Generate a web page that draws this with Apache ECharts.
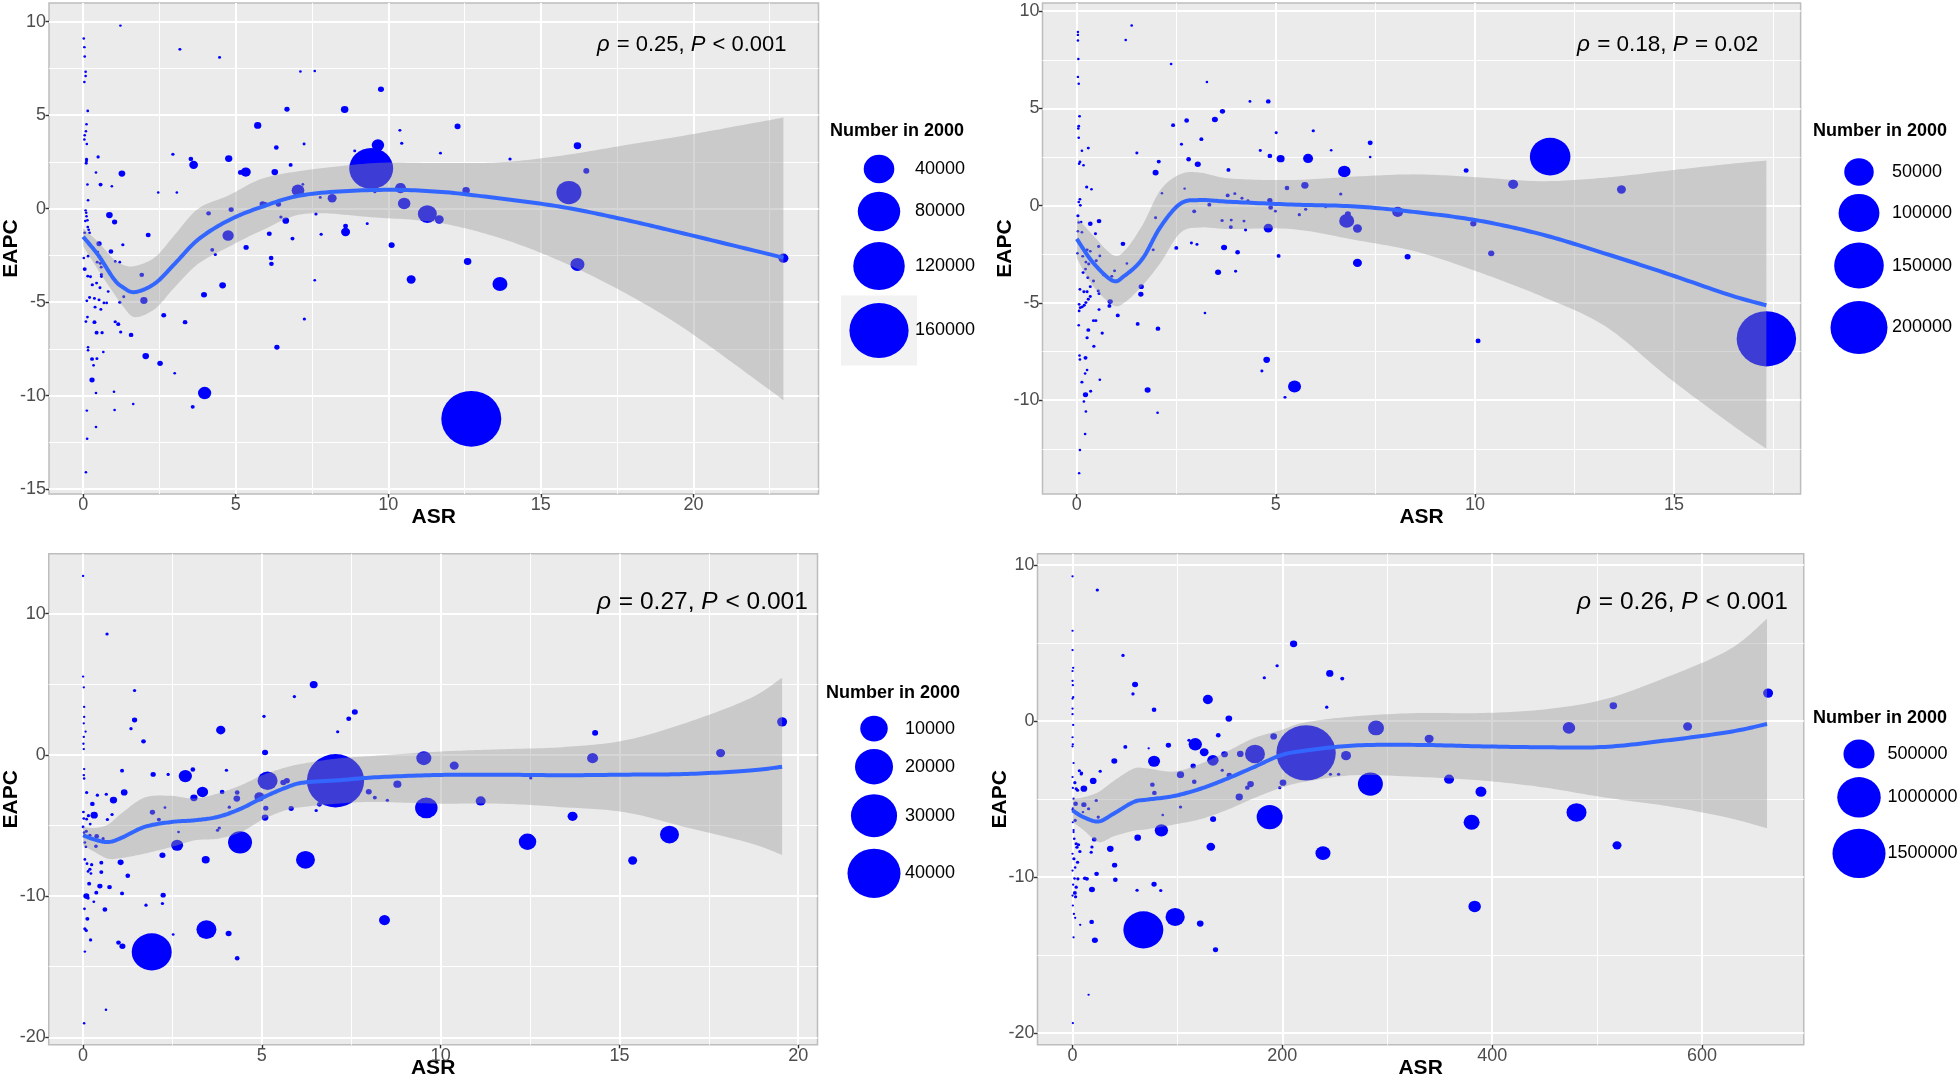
<!DOCTYPE html>
<html><head><meta charset="utf-8">
<script src="https://cdn.jsdelivr.net/npm/echarts@6/dist/echarts.min.js"></script>
<style>html,body{margin:0;padding:0;background:#fff}#c{width:1960px;height:1077px}</style>
</head><body><div id="c"></div>
<script>
// ================= DATA =================
// points: [ASR, EAPC, Number in 2000]
const p1Points = [
[1.22,9.79,20],[0.02,9.1,20],[0.04,8.64,20],[0.05,8.14,20],[0.08,7.32,20],[0.08,7.1,20],[0.04,6.77,20],[3.17,8.52,50],[4.47,8.09,50],[7.12,7.34,20],[7.59,7.36,20],
[0.15,5.23,30],[0.11,4.52,20],[0.09,4.14,20],[0.05,3.93,20],[0.04,3.7,20],[0.12,3.46,20],[0.49,2.77,80],[0.11,2.65,50],[0.11,2.55,50],[0.1,2.43,50],[0.42,1.93,20],
[1.27,1.88,1080],[0.57,1.29,196],[0.94,1.2,20],[0.14,1.29,20],[0.16,0.45,20],[0.08,-0.09,20],[0.1,-0.22,20],[0.11,-0.41,20],[0.14,-0.62,20],[0.07,-0.66,20],
[0.86,-0.34,1080],[1.03,-0.71,530],[0.15,-0.98,30],[0.18,-1.13,30],[0.05,-1.29,30],[0.21,-1.29,30],[2.13,-1.41,440],[2.94,2.91,80],[3.53,2.66,356],[3.62,2.34,2200],
[4.77,2.68,1380],[2.46,0.86,20],[3.07,0.86,20],[0.52,-1.88,530],[1.3,-1.93,80],[0.91,-2.29,356],[0.02,-2.64,20],[0.16,-2.54,30],[0.48,-2.32,30],[0.05,-3.23,196],
[0.46,-2.86,50],[0.56,-2.93,50],[0.59,-3.13,50],[0.6,-3.52,80],[0.6,-3.63,50],[0.15,-3.61,50],[0.24,-3.64,50],[0.3,-4.07,80],[0.44,-3.98,50],[0.55,-4.23,50],
[1.05,-2.82,30],[1.2,-2.86,30],[1.92,-3.54,356],[1.99,-4.91,1380],[1.2,-5.0,80],[1.33,-4.71,50],[0.82,-4.43,30],[0.21,-4.75,50],[0.37,-4.8,50],[0.52,-4.88,50],
[0.68,-5.04,30],[0.77,-5.04,30],[0.39,-5.27,50],[0.58,-5.39,50],[0.12,-4.93,30],[0.14,-5.8,30],[0.09,-6.04,30],[0.37,-6.07,196],[1.05,-6.05,80],[1.15,-6.18,196],
[0.44,-6.63,196],[0.62,-6.63,80],[1.23,-6.6,80],[1.57,-6.75,356],[2.64,-5.7,440],[3.34,-6.07,356],[3.96,-4.6,780],[4.57,-4.1,1080],[0.16,-7.41,20],[0.16,-7.57,20],
[0.66,-7.66,20],[0.29,-8.04,196],[0.45,-8.02,50],[0.34,-8.38,30],[2.05,-7.88,1080],[2.52,-8.27,620],[3.0,-8.8,30],[0.29,-9.16,530],[0.42,-9.86,20],[1.01,-9.79,20],
[1.03,-10.77,20],[1.64,-10.45,20],[0.12,-10.8,20],[0.42,-11.68,20],[0.13,-12.3,20],[0.09,-14.1,20],[3.98,-9.86,6250],[3.59,-10.6,196],[6.35,-7.41,530],[7.25,-5.9,80],
[5.72,4.45,1380],[6.68,5.32,530],[6.33,3.27,356],[7.24,3.46,50],[6.8,2.34,196],[5.33,1.96,3130],[5.16,1.94,530],[6.28,1.96,1080],[7.04,0.98,5600],[7.2,1.3,30],
[4.11,-0.25,356],[4.85,-0.05,530],[4.3,-1.05,50],[4.75,-1.43,4230],[4.23,-2.2,196],[4.33,-2.45,80],[5.34,-2.07,530],[5.88,0.25,780],[5.97,0.25,300],[6.4,0.23,530],
[6.48,-0.45,80],[6.64,-0.64,1080],[6.1,-1.34,440],[6.86,-1.6,196],[6.16,-2.64,356],[6.17,-2.95,356],
[9.76,6.39,780],[8.57,5.3,1480],[9.66,3.4,5390],[8.9,3.09,50],[10.38,4.19,50],[10.44,3.5,80],[12.27,4.4,780],[11.71,2.97,50],[9.44,2.15,86000],[9.56,0.91,80],
[10.4,1.1,3960],[10.52,0.28,5390],[11.28,-0.29,14130],[11.67,-0.58,2400],[12.55,0.97,1480],[8.16,0.56,2400],[7.77,0.6,50],[7.63,-0.29,80],[7.8,-1.37,80],
[8.6,-0.93,440],[8.6,-1.25,2400],[9.31,-0.8,50],[10.11,-1.95,780],[7.59,-3.83,30],[10.75,-3.79,2400],[12.6,-2.83,1480],[13.66,-4.03,8260],[13.99,2.66,80],
[15.92,0.86,25870],[16.2,3.36,1480],[16.49,2.02,780],[16.2,-2.98,7040],[22.95,-2.65,3130],[12.72,-11.24,164500]
];
const p1SmoothX = [0,0.5,1.0,1.3,1.69,2.35,3.0,3.77,4.76,5.86,7.28,9.58,11.63,13.68,15.73,17.78,19.84,22.95];
const p1Fit     = [-1.5,-2.5,-3.75,-4.2,-4.46,-4.0,-2.95,-1.65,-0.63,0.1,0.75,1.0,0.91,0.54,0.08,-0.6,-1.39,-2.62];
const p1Lower   = [-2.0,-3.3,-4.52,-5.2,-5.8,-5.36,-4.2,-2.95,-2.05,-1.16,-0.27,-0.47,-0.75,-1.58,-2.87,-4.53,-6.56,-10.24];
const p1Upper   = [-1.05,-1.8,-2.7,-3.0,-3.07,-2.6,-1.4,0.0,0.7,1.6,2.05,2.44,2.44,2.48,2.85,3.4,3.95,4.87];
const p1XTicks = [0,5,10,15,20];
const p1YTicks = [-15,-10,-5,0,5,10];
const p1Legend = [40000,80000,120000,160000];
const p1Stat = ['0.25','< 0.001'];

const p2Points = [
[0.03,8.93,20],[0.03,8.78,20],[0.03,8.49,20],[0.04,7.54,20],[0.03,6.62,20],[0.05,6.27,20],[1.38,9.26,30],[1.23,8.52,30],[2.37,7.29,30],[3.27,6.36,30],[4.35,5.36,50],[4.81,5.36,480],
[3.66,4.85,720],[3.47,4.43,1060],[2.76,4.38,480],[2.42,4.14,264],[0.07,4.6,50],[0.05,4.09,50],[0.04,3.97,30],[0.05,3.49,30],[0.29,2.96,80],[0.13,2.82,30],[0.08,2.25,50],
[0.06,2.16,30],[0.17,2.08,30],[1.51,2.71,80],[2.63,3.16,80],[3.13,3.42,264],[5.01,3.75,80],[4.61,2.84,80],[4.85,2.56,480],[5.12,2.42,2380],[2.81,2.39,480],[3.04,2.13,1060],
[2.06,2.27,264],[1.98,1.7,1060],[3.81,1.84,264],[0.25,0.96,110],[0.37,0.84,30],[2.14,0.64,20],[2.71,0.88,20],[5.28,0.91,480],[3.79,0.53,264],[3.97,0.62,80],[4.15,0.38,80],
[4.3,0.26,80],[0.08,0.33,50],[0.05,0.19,30],[0.09,0.02,50],[0.03,-0.52,110],[0.05,-0.86,30],[0.11,-0.84,30],[0.03,-1.31,30],[0.13,-1.36,30],[0.34,-0.93,480],[0.56,-0.79,480],
[2.95,-0.29,264],[3.33,0.05,264],[1.98,-0.62,80],[4.85,0.27,720],[4.87,-0.09,480],[4.99,-0.28,80],[3.65,-0.76,110],[3.88,-0.74,80],[3.87,-1.1,264],[4.2,-0.79,80],[4.24,-1.25,80],
[4.81,-1.15,3520],[0.47,-1.44,80],[0.55,-2.1,80],[1.16,-1.96,480],[2.5,-2.17,264],[2.88,-1.92,80],[3.02,-1.99,80],[1.92,-2.27,80],[1.26,-2.97,30],[3.7,-2.15,1060],[4.04,-2.39,480],
[5.07,-2.58,264],[3.55,-3.42,1060],[3.99,-3.37,80],[0.02,-2.44,30],[0.15,-2.6,50],[0.26,-2.27,80],[0.34,-2.34,50],[0.23,-2.9,50],[0.3,-3.0,80],[0.16,-3.44,80],[0.22,-3.26,50],
[0.49,-2.83,80],[0.58,-2.58,50],[0.42,-3.87,80],[0.28,-3.7,80],[0.34,-4.16,80],[0.08,-4.3,50],[0.18,-4.42,80],[0.26,-4.42,80],[0.29,-4.81,80],[0.34,-4.67,80],[0.06,-5.07,50],
[0.09,-5.24,80],[0.14,-5.2,80],[0.19,-5.12,80],[0.23,-4.98,80],[0.06,-5.41,50],[0.54,-4.38,80],[0.56,-4.52,80],[0.67,-3.56,50],[0.95,-3.35,80],[0.88,-3.63,80],[0.84,-4.93,720],
[0.82,-5.15,264],[1.62,-4.16,720],[1.61,-4.55,720],[1.03,-5.64,264],[0.56,-5.34,80],[0.05,-6.15,30],[0.29,-6.39,264],[0.26,-6.79,110],[0.42,-5.91,80],[0.48,-5.91,80],
[0.64,-6.55,110],[0.43,-7.22,110],[1.53,-6.08,264],[2.04,-6.32,480],[3.22,-5.51,30],[0.07,-7.7,30],[0.08,-7.9,30],[0.22,-7.82,264],[0.26,-8.45,30],[0.21,-8.62,30],
[0.13,-9.07,80],[0.58,-8.95,30],[0.35,-9.54,80],[0.22,-9.72,720],[0.18,-10.07,30],[0.23,-10.58,30],[0.21,-11.74,30],[0.08,-12.56,20],[0.06,-13.75,20],[1.78,-9.47,1060],
[2.03,-10.64,30],[4.77,-7.92,1460],[4.65,-8.5,80],[5.47,-9.29,8000],[5.23,-9.85,80],
[5.81,2.43,4230],[6.72,1.76,7300],[5.73,1.05,1860],[5.94,3.85,110],[6.39,2.85,30],[7.37,3.23,595],[7.37,2.5,30],[6.63,0.6,110],[6.78,-0.78,11170],[6.81,-0.43,1060],
[7.05,-1.17,3240],[8.06,-0.32,5350],[7.05,-2.94,3240],[8.31,-2.62,1060],[9.78,1.81,595],[9.96,-0.92,1200],[10.41,-2.45,1200],[10.08,-6.95,595],[10.96,1.1,4230],
[11.89,2.52,98500],[13.68,0.83,3240],[17.32,-6.84,218000],[5.75,-0.18,110],[5.59,-0.46,110],[6.25,-0.07,30]
];
const p2SmoothX = [0,0.4,0.9,1.2,1.65,2.1,2.6,3.1,3.85,5.4,7.0,8.56,10.13,11.7,13.27,14.84,16.41,17.32];
const p2Fit     = [-1.7,-2.9,-3.85,-3.6,-2.73,-1.1,0.1,0.29,0.2,0.06,-0.04,-0.34,-0.78,-1.49,-2.46,-3.5,-4.6,-5.12];
const p2Lower   = [-2.7,-4.1,-5.1,-4.98,-4.1,-2.95,-1.4,-1.12,-1.2,-1.2,-1.76,-2.38,-3.44,-4.68,-6.19,-8.8,-11.2,-12.5];
const p2Upper   = [-0.6,-1.5,-2.53,-2.32,-1.0,0.8,1.62,1.7,1.4,1.32,1.5,1.61,1.45,1.26,1.44,1.8,2.15,2.32];
const p2XTicks = [0,5,10,15];
const p2YTicks = [-10,-5,0,5,10];
const p2Legend = [50000,100000,150000,200000];
const p2Stat = ['0.18','= 0.02'];

const p3Points = [
[0,12.67,3],[0.67,8.56,26],[0,5.55,3],[0.02,4.79,3],[0.03,3.4,3],[0.03,2.69,3],[0.02,2.24,3],[0.07,1.65,3],[0.02,1.27,3],[0.01,0.79,3],[0.02,0.41,3],
[1.44,4.56,26],[1.44,2.47,167],[1.34,1.86,26],[1.69,0.96,112],[3.85,1.76,820],[5.06,2.73,26],[5.91,4.13,26],[5.09,0.17,246],[0.03,-1.0,3],[0.02,-1.43,5],[0.03,-1.67,5],
[1.09,-1.12,62],[1.96,-1.38,167],[2.38,-1.38,26],[2.86,-1.5,1960],[3.07,-1.03,112],[4.01,-1.08,26],[0.1,-2.66,26],[0.4,-2.85,26],[0.65,-2.78,26],[0.85,-3.2,432],
[1.15,-2.66,340],[0.26,-3.47,112],[0.31,-4.27,432],[0.81,-4.22,26],[0.68,-4.58,26],[0.01,-4.04,10],[0.02,-4.5,10],[3.34,-2.62,1330],[3.1,-3.04,432],[3.89,-2.62,112],
[4.31,-2.66,112],[4.3,-3.09,340],[4.09,-3.7,26],[4.93,-2.97,984],[5.16,-1.83,4980],[5.6,-1.95,246],[5.7,-1.83,246],[5.82,-3.8,167],[5.11,-3.77,167],[5.09,-4.44,340],
[1.94,-4.06,167],[2.12,-4.58,62],[2.29,-3.73,10],[2.67,-5.46,10],[2.63,-6.4,1540],[3.76,-5.34,26],[3.81,-5.17,26],[4.39,-6.19,7440],[1.05,-7.61,246],[2.22,-7.11,246],
[3.43,-7.42,554],[1.25,-8.56,112],[6.22,-7.43,4444],[0.0,-5.1,10],[0.03,-5.5,10],[0.09,-5.41,26],[0.19,-5.69,26],[0.38,-5.76,112],[0.56,-5.93,26],[0.36,-6.47,40],
[0.05,-6.2,10],[0.08,-6.5,10],[0.05,-7.4,10],[0.11,-7.7,10],[0.19,-8.1,26],[0.14,-8.25,10],[0.24,-7.77,26],[0.51,-7.63,62],[0.22,-8.4,10],[0.51,-8.3,62],[0.17,-9.12,62],
[0.47,-9.29,167],[0.74,-9.36,112],[0.37,-9.76,62],[0.09,-10.0,246],[0.14,-10.14,26],[1.09,-9.81,62],[0.61,-10.95,112],[0.3,-10.4,10],[0.04,-10.9,10],[0.12,-11.61,62],
[0.05,-12.32,26],[0.09,-12.44,26],[0.21,-13.1,26],[0.05,-13.93,5],[0.64,-18.05,5],[0.03,-19.0,5],[1.76,-10.64,26],[2.22,-10.52,26],[2.24,-9.93,167],[0.99,-13.29,112],
[1.1,-13.55,246],[1.92,-13.95,22200],[3.45,-12.37,4980],[4.07,-12.65,246],[4.31,-14.4,112],[2.52,-12.72,10],[0.15,-4.3,26],[0.1,-4.55,10],[0.2,-4.9,10],
[6.45,4.98,540],[7.6,3.04,246],[7.43,2.56,138],[7.12,1.64,26],[7.06,-1.83,47000],[7.99,-2.61,246],[8.16,-3.02,60],[8.51,-3.21,26],[8.79,-2.07,554],[6.61,-3.5,138],
[6.52,-3.94,26],[9.53,-0.23,2600],[10.38,-0.76,754],[9.6,-3.75,6460],[11.12,-3.26,984],[12.52,-1.64,26],[12.43,-6.15,3700],[8.43,-11.7,1246],[13.69,-4.35,984],
[14.25,-0.23,1246],[14.32,1.56,246],[15.37,-7.48,754],[16.4,-5.64,4444],[17.83,0.13,754],[19.55,2.34,984]
];
const p3SmoothX = [0,0.33,0.7,1.07,1.72,2.47,3.12,3.77,4.42,5.07,5.73,6.19,7.12,8.16,9.91,11.66,13.41,15.16,16.9,18.65,19.55];
const p3Fit     = [-5.69,-6.0,-6.17,-5.88,-5.1,-4.75,-4.63,-4.39,-3.8,-2.97,-2.26,-1.95,-1.8,-1.59,-1.42,-1.4,-1.44,-1.4,-1.35,-1.1,-0.84];
const p3Lower   = [-6.4,-6.88,-7.35,-7.3,-6.99,-6.52,-6.05,-5.93,-5.46,-4.51,-3.87,-3.68,-3.45,-3.33,-3.45,-3.45,-3.7,-4.06,-5.15,-6.24,-7.09];
const p3Upper   = [-5.1,-5.17,-4.93,-4.15,-3.02,-2.9,-3.09,-2.73,-2.14,-1.38,-0.84,-0.6,-0.25,-0.06,0.23,0.4,0.55,1.03,2.3,4.0,5.47];
const p3XTicks = [0,5,10,15,20];
const p3YTicks = [-20,-10,0,10];
const p3Legend = [10000,20000,30000,40000];
const p3Stat = ['0.27','< 0.001'];

const p4Points = [
[0,9.27,1000],[23.6,8.39,2930],[0,5.78,1000],[0,4.54,1000],[0.6,3.4,1000],[0,3.2,1000],[0,2.57,1000],[0.3,2.29,1000],[0.6,1.52,1000],[0,1.43,1000],[0,0.79,1000],
[0,0.43,1000],[0.6,-0.26,1000],[0,-1.05,1000],[0.3,-1.5,1000],[0,-1.63,1000],[1,-2.7,1000],[48.1,4.2,2930],[59.6,2.33,13840],[57.6,1.73,2930],[77.7,0.71,7580],
[129,1.37,44800],[149,0.15,18000],[182.8,2.76,2930],[195,3.53,2930],[50.3,-1.67,5000],[72.6,-1.76,1000],[91.4,-1.56,10240],[111,-1.24,2930],[117,-1.5,83800],
[125.5,-2.01,32800],[133.8,-2.53,60000],[115,-2.89,10240],[138.9,-0.92,7580],[144.9,-2.14,18000],[159.9,-2.12,18000],[173.9,-2.12,200000],[77.7,-2.59,67000],
[39.8,-2.57,13840],[26.4,-3.23,2930],[19.7,-3.85,18000],[8.3,-3.4,2930],[10.8,-4.35,18000],[102.9,-3.45,22000],[116,-3.9,7580],[76.1,-4.09,7580],[78,-4.62,7580],
[149.4,-3.49,10240],[142.7,-3.17,2930],[169.7,-4.05,18000],[166.6,-4.28,7580],[158.9,-4.88,22000],[191.7,-1.0,18000],[200.6,-3.96,18000],[197.5,-4.28,2930],
[2.9,-5.31,7580],[10.8,-5.37,10240],[15.3,-5.63,2930],[22.6,-5.1,2930],[24.5,-6.17,2930],[86,-6.04,1500],[102.9,-5.52,2930],[84.7,-7.02,83800],[134,-6.3,13840],
[131.8,-8.07,32800],[187.9,-6.17,346000],[62.1,-7.49,18000],[20.7,-7.6,7580],[36,-8.2,18000],[40.1,-9.25,10240],[40.8,-10.19,7580],[18.5,-8.09,2930],[17.8,-8.42,2930],
[22.9,-9.81,7580],[18.5,-10.81,13840],[61.5,-10.86,2930],[77.7,-10.47,10240],[84.1,-10.88,2930],[18.2,-12.89,7580],[21.3,-14.07,13840],[7.3,-13.08,1000],[1,-13.88,1000],
[67.5,-13.4,842000],[97.8,-12.57,185000],[121.7,-13.0,18000],[136.3,-14.67,10240],[15.3,-17.56,1000],[0.3,-19.38,1000],
[2.2,-3.96,2930],[4.8,-4.45,2930],[1,-4.99,1000],[0.3,-5.6,1000],[2.5,-6.38,2930],[1,-7.13,1000],[1.6,-7.56,1500],[3.5,-7.88,2930],[5.7,-7.94,2930],[4.2,-8.1,2930],
[7,-8.37,2930],[0,-8.52,1000],[1.3,-8.84,2930],[4.8,-9.06,2930],[2.5,-9.4,1500],[5.1,-10.13,2930],[1.9,-10.1,1500],[11.8,-10.09,5000],[13.7,-10.13,5000],[3.5,-10.66,2930],
[2.2,-11.03,5000],[2.9,-11.28,2930],[0.3,-11.84,1000],[1.3,-12.38,1000],[2.5,-12.63,1000],[3.5,-4.35,2930],[8.6,-3.34,2930],[6.5,-3.2,2930],[9.9,-5.85,1500],[0,-5.7,1000],
[0.3,-6.5,1000],[1,-7.0,1000],[0,-9.6,1000],[0.6,-10.5,1000],[0,-11.2,1000],[0.3,-4.3,1000],[0,-3.6,1000],
[210.7,4.94,22000],[245.2,3.04,22000],[257.1,2.71,5000],[242.3,0.88,2930],[222.6,-2.05,1890000],[245.8,-3.42,2930],[253.6,-3.42,2930],[260.7,-2.23,44800],
[289.3,-0.45,125000],[283.9,-4.05,319000],[238.7,-8.48,108500],[339.9,-1.15,35400],[358.9,-3.74,44800],[389.3,-4.54,55400],[380.4,-6.5,125000],[400,-1.63,2930],
[383.3,-11.9,73200],[473.2,-0.45,73200],[480.4,-5.87,200000],[515.5,0.97,23400],[519,-7.98,35400],[586.3,-0.36,35400],[663,1.78,44800]
];
const p4SmoothX = [0,10.5,24.8,39.2,58.3,71,96.5,122,147.5,173,198.4,221.4,269,328.6,388,447.6,507,566.7,626,662];
const p4Fit     = [-5.74,-6.17,-6.45,-5.95,-5.2,-5.05,-4.82,-4.35,-3.7,-2.96,-2.21,-1.91,-1.58,-1.54,-1.63,-1.69,-1.67,-1.25,-0.71,-0.2];
const p4Lower   = [-6.49,-7.0,-7.77,-7.4,-7.05,-6.95,-6.65,-6.3,-5.7,-4.95,-4.3,-3.9,-3.48,-3.59,-3.81,-4.25,-4.91,-5.46,-6.23,-6.89];
const p4Upper   = [-4.99,-4.9,-4.56,-3.85,-3.06,-3.05,-3.25,-2.75,-1.95,-1.1,-0.6,-0.1,0.29,0.5,0.5,0.72,1.38,2.81,4.57,6.55];
const p4XTicks = [0,200,400,600];
const p4YTicks = [-20,-10,0,10];
const p4Legend = [500000,1000000,1500000];
const p4Stat = ['0.26','< 0.001'];

// ================= LAYOUT / STYLE =================
const FONT = '"Liberation Sans", Arial, Helvetica, sans-serif';
const PANELS = [
  {pts:p1Points, sx:p1SmoothX, fit:p1Fit, lo:p1Lower, hi:p1Upper, xt:p1XTicks, yt:p1YTicks, leg:p1Legend, stat:p1Stat,
   grid:{left:49, top:3, width:769.5, height:491}, xr:[-1.12,24.1], yr:[-15.26,11.0], d0:2, k:0.143,
   L:{titleX:830, titleY:131, cx:879, lx:915, firstY:169, box:true}, S:{x:597, y:45, fs:22}},
  {pts:p2Points, sx:p2SmoothX, fit:p2Fit, lo:p2Lower, hi:p2Upper, xt:p2XTicks, yt:p2YTicks, leg:p2Legend, stat:p2Stat,
   grid:{left:1042.5, top:3, width:758.1, height:491}, xr:[-0.86,18.18], yr:[-14.82,10.42], d0:2, k:0.123,
   L:{titleX:1813, titleY:131, cx:1859, lx:1892, firstY:172}, S:{x:1577, y:45, fs:22.5}},
  {pts:p3Points, sx:p3SmoothX, fit:p3Fit, lo:p3Lower, hi:p3Upper, xt:p3XTicks, yt:p3YTicks, leg:p3Legend, stat:p3Stat,
   grid:{left:48.75, top:553.7, width:768.75, height:491.1}, xr:[-0.96,20.54], yr:[-20.53,14.25], d0:2, k:0.255,
   L:{titleX:826, titleY:693, cx:874, lx:905, firstY:728.6}, S:{x:597, y:602, fs:24.5}},
  {pts:p4Points, sx:p4SmoothX, fit:p4Fit, lo:p4Lower, hi:p4Upper, xt:p4XTicks, yt:p4YTicks, leg:p4Legend, stat:p4Stat,
   grid:{left:1037.5, top:553.7, width:766.25, height:491.1}, xr:[-33.4,697], yr:[-20.77,10.72], d0:1, k:0.0425,
   L:{titleX:1813, titleY:718, cx:1859, lx:1887.5, firstY:754}, S:{x:1577, y:602, fs:24.5}}
];
const ASPECT = 0.93;

function minors(ticks, range){
  const s = ticks[1]-ticks[0], out = [];
  for (let t = ticks[0]-s; t <= ticks[ticks.length-1]; t += s){
    const m = t + s/2;
    if (m > range[0] && m < range[1]) out.push(m);
  }
  return out;
}
// Catmull-Rom spline through projected pixel points (rendering only)
function spline(pts){
  const out = [pts[0]];
  for (let i = 0; i < pts.length-1; i++){
    const p0 = pts[i-1] || pts[i], p1 = pts[i], p2 = pts[i+1], p3 = pts[i+2] || pts[i+1];
    const c1 = [p1[0]+(p2[0]-p0[0])/6, p1[1]+(p2[1]-p0[1])/6];
    const c2 = [p2[0]-(p3[0]-p1[0])/6, p2[1]-(p3[1]-p1[1])/6];
    for (let s = 1; s <= 16; s++){
      const t = s/16, u = 1-t;
      out.push([u*u*u*p1[0]+3*u*u*t*c1[0]+3*u*t*t*c2[0]+t*t*t*p2[0],
                u*u*u*p1[1]+3*u*u*t*c1[1]+3*u*t*t*c2[1]+t*t*t*p2[1]]);
    }
  }
  return out;
}
const mctx = document.createElement('canvas').getContext('2d');
function textW(txt, fs, italic){ mctx.font = (italic ? 'italic ' : '') + fs + 'px ' + FONT; return mctx.measureText(txt).width; }

const grids = [], xAxes = [], yAxes = [], series = [], graphics = [];
PANELS.forEach((P, i) => {
  grids.push(Object.assign({show:true, backgroundColor:'#EBEBEB', borderColor:'#bdbdbd', borderWidth:1.5, containLabel:false, outerBoundsMode:'none'}, P.grid));
  const tickStyle = {show:true, length:3.5, lineStyle:{color:'#333333', width:1.4}};
  const lab = {color:'#4D4D4D', fontSize:18, fontFamily:FONT};
  xAxes.push({type:'value', gridIndex:i, min:P.xr[0], max:P.xr[1], position:'bottom',
    axisLine:{show:false, onZero:false}, axisTick:Object.assign({customValues:P.xt}, tickStyle),
    axisLabel:Object.assign({customValues:P.xt, margin:2}, lab),
    splitLine:{show:true, lineStyle:{color:'#FFFFFF', width:2}},
    name:'ASR', nameLocation:'middle', nameGap:13, nameMoveOverlap:false,
    nameTextStyle:{fontWeight:'bold', fontSize:21, color:'#000', fontFamily:FONT}});
  xAxes.push({type:'value', gridIndex:i, min:P.xr[0], max:P.xr[1], position:'bottom',
    axisLine:{show:false, onZero:false}, axisTick:{show:false, customValues:minors(P.xt,P.xr)},
    axisLabel:{show:false, customValues:minors(P.xt,P.xr)},
    splitLine:{show:true, lineStyle:{color:'#FFFFFF', width:1}}});
  yAxes.push({type:'value', gridIndex:i, min:P.yr[0], max:P.yr[1], position:'left',
    axisLine:{show:false, onZero:false}, axisTick:Object.assign({customValues:P.yt}, tickStyle),
    axisLabel:Object.assign({customValues:P.yt, margin:3}, lab),
    splitLine:{show:true, lineStyle:{color:'#FFFFFF', width:2}},
    name:'EAPC', nameLocation:'middle', nameGap:27, nameMoveOverlap:false,
    nameTextStyle:{fontWeight:'bold', fontSize:21, color:'#000', fontFamily:FONT}});
  yAxes.push({type:'value', gridIndex:i, min:P.yr[0], max:P.yr[1], position:'left',
    axisLine:{show:false, onZero:false}, axisTick:{show:false, customValues:minors(P.yt,P.yr)},
    axisLabel:{show:false, customValues:minors(P.yt,P.yr)},
    splitLine:{show:true, lineStyle:{color:'#FFFFFF', width:1}}});

  const w = n => P.d0 + P.k*Math.sqrt(n);
  const xi = 2*i, yi = 2*i;
  // points
  series.push({type:'scatter', xAxisIndex:xi, yAxisIndex:yi, data:P.pts, z:2, silent:true,
    symbolSize: v => [w(v[2]), w(v[2])*ASPECT], itemStyle:{color:'#0000FF', opacity:1}});
  // confidence band
  series.push({type:'custom', coordinateSystem:'cartesian2d', xAxisIndex:xi, yAxisIndex:yi, z:3, silent:true, clip:true,
    data:[[P.sx[0], P.fit[0]]], encode:{x:0, y:1},
    renderItem:(params, api) => {
      const up = spline(P.sx.map((x,j) => api.coord([x, P.hi[j]])));
      const dn = spline(P.sx.map((x,j) => api.coord([x, P.lo[j]])).reverse());
      return {type:'polygon', shape:{points: up.concat(dn)}, style:{fill:'#999999', opacity:0.4}};
    }});
  // loess fit
  series.push({type:'custom', coordinateSystem:'cartesian2d', xAxisIndex:xi, yAxisIndex:yi, z:4, silent:true, clip:true,
    data:[[P.sx[0], P.fit[0]]], encode:{x:0, y:1},
    renderItem:(params, api) => {
      const pts = spline(P.sx.map((x,j) => api.coord([x, P.fit[j]])));
      return {type:'polyline', shape:{points: pts}, style:{stroke:'#3366FF', lineWidth:4, fill:null, lineJoin:'round', lineCap:'butt'}};
    }});

  // correlation annotation (ρ and P italic)
  const fs = P.S.fs;
  const parts = [['ρ', true], [' = ' + P.stat[0] + ', ', false], ['P', true], [' ' + P.stat[1], false]];
  let tx = P.S.x;
  parts.forEach(([t, it]) => {
    graphics.push({type:'text', x:tx, y:P.S.y, z:20, silent:true, style:{text:t, fontSize:fs, fontFamily:FONT,
      fontStyle: it ? 'italic' : 'normal', fill:'#000', verticalAlign:'middle', align:'left'}});
    tx += textW(t, fs, it) + (it ? 1 : 0);
  });

  // size legend
  graphics.push({type:'text', x:P.L.titleX, y:P.L.titleY, z:20, silent:true, style:{text:'Number in 2000',
    fontWeight:'bold', fontSize:18, fontFamily:FONT, fill:'#000', verticalAlign:'middle', align:'left'}});
  let cy = P.L.firstY;
  P.leg.forEach((v, j) => {
    const d = w(v), h = d*ASPECT;
    if (j > 0) { const pd = w(P.leg[j-1])*ASPECT; cy += 1.25*(pd + h)/2; }
    if (P.L.box && j === P.leg.length-1) {
      graphics.push({type:'rect', z:19, silent:true, shape:{x:P.L.cx-38, y:cy-35, width:76, height:70}, style:{fill:'#F2F2F2'}});
    }
    graphics.push({type:'circle', z:20, x:P.L.cx, y:cy, scaleY:ASPECT, silent:true, shape:{cx:0, cy:0, r:d/2}, style:{fill:'#0000FF'}});
    graphics.push({type:'text', z:20, x:P.L.lx, y:cy, silent:true, style:{text:String(v), fontSize:18, fontFamily:FONT, fill:'#000', verticalAlign:'middle', align:'left'}});
  });
});

const chart = echarts.init(document.getElementById('c'), null, {renderer:'canvas', width:1960, height:1077});
chart.setOption({
  animation:false, backgroundColor:'#FFFFFF',
  grid:grids, xAxis:xAxes, yAxis:yAxes, series:series, graphic:{elements:graphics, z:20}
});
</script>
</body></html>
